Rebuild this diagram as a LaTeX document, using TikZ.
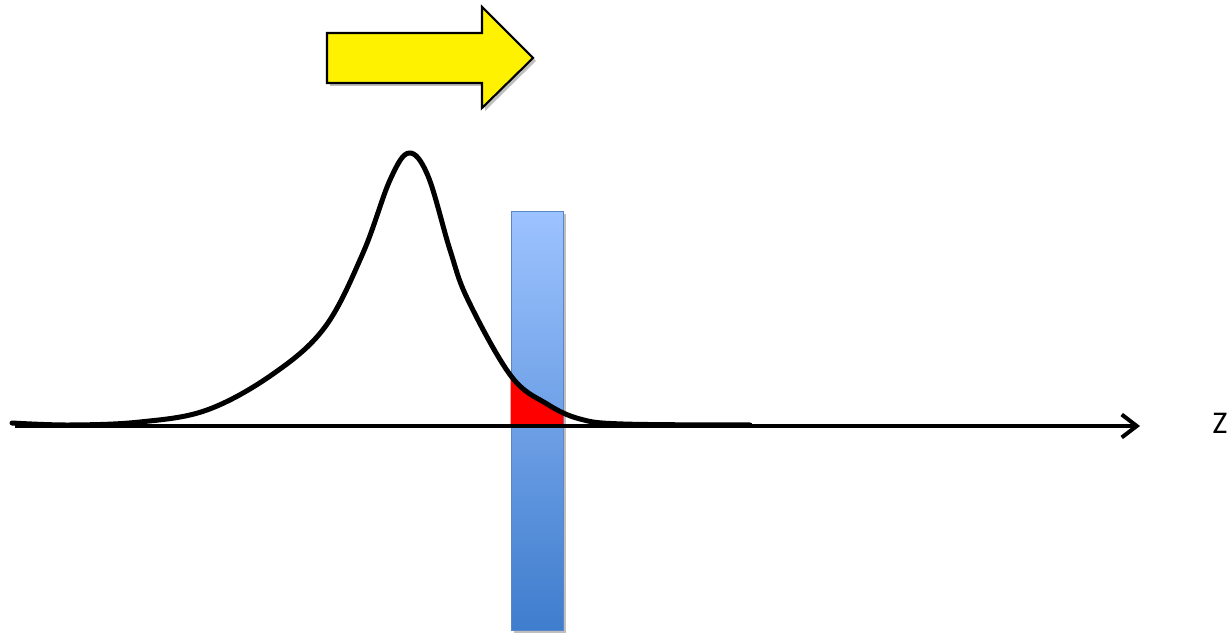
\documentclass[tikz,border=0pt]{standalone}
\usepackage{fontspec}
\setmainfont{Carlito}
\definecolor{slabtop}{HTML}{9DC3FF}
\definecolor{slabbot}{HTML}{3F7DCD}
\definecolor{slabedge}{HTML}{5A87C8}
\usetikzlibrary{arrows.meta}

\begin{document}
\begin{tikzpicture}[x=0.02cm,y=-0.02cm,>={Straight Barb[length=0.3cm,width=0.46cm]},
  thickline/.style={line width=0.08cm,line cap=round,line join=round},
  slab/.style={rectangle,draw=slabedge,line width=0.5pt,top color=slabtop,bottom color=slabbot,
     minimum width=1.04cm,minimum height=8.38cm,inner sep=0pt}]
  \useasboundingbox (0,0) rectangle (1230,634);
  % push arrow (with a soft shadow)
  \fill[black,opacity=0.25] (330,36) -- (485,36) -- (485,10) -- (536,61) -- (485,111) -- (485,86) -- (330,86) -- cycle;
  \draw[fill=yellow,line width=1.2pt,line join=miter] (327,33) -- (482,33) -- (482,7) -- (533,58) -- (482,108) -- (482,83) -- (327,83) -- cycle;
  % slab
  \fill[black!25] (514,214) rectangle (566,633);
  \node[slab] (slab) at (537,420.5) {};
  % pulse
  \path[save path=\pulsepath] plot[smooth,tension=0.6] coordinates {(12,423) (70,425) (140,422)
     (207,410) (273,374) (325,327) (363,253) (390,180) (409,153) (428,176) (450,250) (468,300)
     (511,376) (547,404) (580,419) (623,424) (750,425)};
  \begin{scope}
    \clip (slab.north west) rectangle (slab.east |- 0,426);
    \fill[red,use path=\pulsepath];
  \end{scope}
  \draw[thickline,line width=0.1cm,use path=\pulsepath];
  % axis
  \coordinate (zstart) at (15,426);
  \coordinate (zend) at (1140,426);
  \node[font=\fontsize{18}{20}\selectfont,inner sep=0pt] (zlab) at (1220,423) {Z};
  \draw[thickline,line cap=butt,->] (zstart) -- (zend);
\end{tikzpicture}
\end{document}
